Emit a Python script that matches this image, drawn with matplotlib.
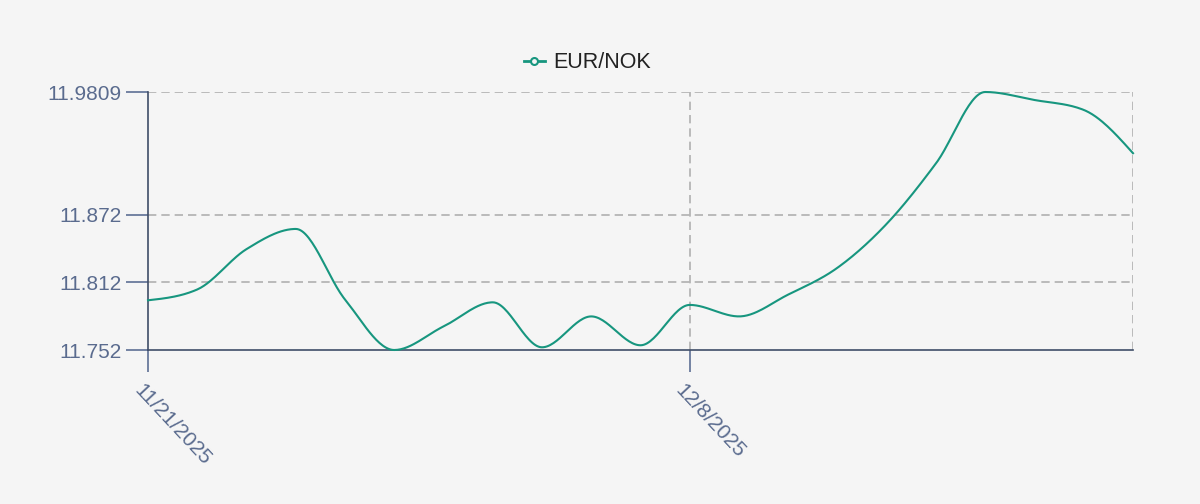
import numpy as np
import matplotlib
matplotlib.use("Agg")
import matplotlib.pyplot as plt
import matplotlib.transforms as mtransforms
from matplotlib.lines import Line2D

plt.rcParams['font.family'] = ['Liberation Sans', 'DejaVu Sans']

# ---- data ----
dates = ["11/21/2025", "11/24/2025", "11/25/2025", "11/26/2025", "11/27/2025",
         "11/28/2025", "12/1/2025", "12/2/2025", "12/3/2025", "12/4/2025",
         "12/5/2025", "12/8/2025", "12/9/2025", "12/10/2025", "12/11/2025",
         "12/12/2025", "12/15/2025", "12/16/2025", "12/17/2025", "12/18/2025",
         "12/19/2025"]
values = [11.7961, 11.8057, 11.8415, 11.8594, 11.7968, 11.7520, 11.7729,
          11.7943, 11.7544, 11.7818, 11.7562, 11.7920, 11.7818, 11.8012,
          11.8250, 11.8640, 11.9176, 11.9809, 11.9738, 11.9650, 11.9266]
y_ticks = [11.752, 11.812, 11.872, 11.9809]
y_tick_labels = ["11.752", "11.812", "11.872", "11.9809"]
x_tick_idx = [0, 11]
series_name = "EUR/NOK"

LINE = "#17967f"
LABEL = "#5a6b8e"
SPINE = "#3f4d68"
BG = "#f5f5f5"


def monotone_x(x, y, n=30):
    x = np.asarray(x, float); y = np.asarray(y, float)
    h = np.diff(x); s = np.diff(y) / h
    m = np.zeros_like(y)
    for i in range(1, len(y) - 1):
        h0, h1, s0, s1 = h[i-1], h[i], s[i-1], s[i]
        p = (s0 * h1 + s1 * h0) / (h0 + h1)
        m[i] = (np.sign(s0) + np.sign(s1)) * min(abs(s0), abs(s1), 0.5 * abs(p))
    m[0] = (3 * s[0] - m[1]) / 2
    m[-1] = (3 * s[-1] - m[-2]) / 2
    xs, ys = [], []
    for i in range(len(h)):
        t = np.linspace(0, 1, n, endpoint=(i == len(h) - 1))
        h00 = 2*t**3 - 3*t**2 + 1; h10 = t**3 - 2*t**2 + t
        h01 = -2*t**3 + 3*t**2; h11 = t**3 - t**2
        xs.append(x[i] + t * h[i])
        ys.append(h00*y[i] + h10*h[i]*m[i] + h01*y[i+1] + h11*h[i]*m[i+1])
    return np.concatenate(xs), np.concatenate(ys)


fig = plt.figure(figsize=(12, 5.04), dpi=100, facecolor=BG)
ax = fig.add_axes([148/1200, (504-350)/504, (1133-148)/1200, (350-92)/504])
ax.set_facecolor(BG)

xi = np.arange(len(values))
sx, sy = monotone_x(xi, values)
ax.plot(sx, sy, color=LINE, lw=1.5, clip_on=False, zorder=3)

ax.set_xlim(0, len(values) - 1)
ax.set_ylim(y_ticks[0], y_ticks[-1])

ax.set_yticks(y_ticks)
ax.set_yticklabels(y_tick_labels)
ax.set_xticks(x_tick_idx)
ax.set_xticklabels([dates[i] for i in x_tick_idx], rotation=-47,
                   ha='left', va='top', rotation_mode='anchor')

ax.tick_params(axis='both', length=16, width=1.2, color="#5d6f94",
               labelcolor=LABEL, labelsize=15, pad=3)
ax.tick_params(axis='x', pad=6, labelsize=15)
off = mtransforms.ScaledTranslation(-4/100, 0, fig.dpi_scale_trans)
for lab in ax.get_xticklabels():
    lab.set_transform(lab.get_transform() + off)

for side in ['top', 'right']:
    ax.spines[side].set_visible(False)
for side in ['left', 'bottom']:
    ax.spines[side].set_color(SPINE)
    ax.spines[side].set_linewidth(1.2)

# dashed grid
dash = (0, (5, 3))
for yv in y_ticks[1:]:
    ax.axhline(yv, color="#b0b0b0", lw=1.2, ls=dash, zorder=1)
ax.axvline(x_tick_idx[1], color="#b0b0b0", lw=1.2, ls=dash, zorder=1)
ax.axvline(len(values) - 1, color="#b0b0b0", lw=1.2, ls=dash, zorder=1)

handle = Line2D([], [], color=LINE, lw=2, marker='o', markersize=5,
                markerfacecolor=BG, markeredgecolor=LINE, markeredgewidth=1.5)
fig.legend([handle], [series_name], loc='center',
           bbox_to_anchor=(587.5/1200, 1 - 63/504),
           frameon=False, fontsize=15.5, handlelength=0.95, handletextpad=0.4,
           labelcolor="#222222")

fig.savefig("out.png", dpi=100, facecolor=BG)
